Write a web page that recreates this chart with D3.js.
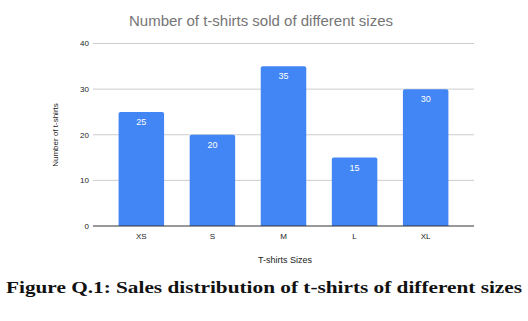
<!DOCTYPE html>
<html>
<head>
<meta charset="utf-8">
<script src="https://cdn.jsdelivr.net/npm/d3@7"></script>
<style>
html,body{margin:0;padding:0;background:#fff;}
svg{display:block;}
</style>
</head>
<body>
<svg id="chart" width="528" height="321"></svg>
<script>
const categories = ["XS", "S", "M", "L", "XL"];
const values = [25, 20, 35, 15, 30];
const yTicks = [0, 10, 20, 30, 40];
const titleText = "Number of t-shirts sold of different sizes";
const xTitle = "T-shirts Sizes";
const yTitle = "Number of t-shirts";
const caption = "Figure Q.1: Sales distribution of t-shirts of different sizes";

const svg = d3.select("#chart");
const plotLeft = 93, plotRight = 474, plotTop = 43.5, plotBottom = 226;

const x = d3.scaleBand().domain(categories).range([plotLeft, plotRight]).paddingInner(0.36).paddingOuter(0.36);
const y = d3.scaleLinear().domain([0, 40]).range([plotBottom, plotTop]);

// gridlines
svg.append("g").selectAll("line").data(yTicks.filter(d => d !== 0)).join("line")
  .attr("x1", plotLeft).attr("x2", plotRight)
  .attr("y1", d => y(d)).attr("y2", d => y(d))
  .attr("stroke", "#cccccc").attr("stroke-width", 1);

// y tick labels
svg.append("g").selectAll("text").data(yTicks).join("text")
  .attr("x", 89).attr("y", d => y(d)).attr("dy", "0.35em")
  .attr("text-anchor", "end")
  .attr("font-family", "Liberation Sans, Arial, sans-serif")
  .attr("font-size", 8).attr("fill", "#222")
  .text(d => d);

// bars with rounded top corners
const r = 2;
svg.append("g").selectAll("path").data(categories).join("path")
  .attr("fill", "#4285F4")
  .attr("d", (c, i) => {
    const x0 = x(c), w = x.bandwidth(), y0 = y(values[i]), y1 = y(0);
    return `M${x0},${y1}V${y0 + r}Q${x0},${y0} ${x0 + r},${y0}H${x0 + w - r}Q${x0 + w},${y0} ${x0 + w},${y0 + r}V${y1}Z`;
  });

// bar value labels
svg.append("g").selectAll("text").data(categories).join("text")
  .attr("x", c => x(c) + x.bandwidth() / 2)
  .attr("y", (c, i) => y(values[i]) + 13)
  .attr("text-anchor", "middle")
  .attr("font-family", "Liberation Sans, Arial, sans-serif")
  .attr("font-size", 9).attr("fill", "#ffffff")
  .text((c, i) => values[i]);

// baseline
svg.append("line").attr("x1", plotLeft).attr("x2", plotRight)
  .attr("y1", y(0)).attr("y2", y(0))
  .attr("stroke", "#333").attr("stroke-width", 1.2);

// x tick labels
const xAxis = d3.axisBottom(x).tickSize(0).tickPadding(0);
const gx = svg.append("g").attr("transform", `translate(0,${y(0)})`).call(xAxis);
gx.select(".domain").remove();
gx.selectAll("text")
  .attr("y", 13).attr("dy", 0)
  .attr("font-family", "Liberation Sans, Arial, sans-serif")
  .attr("font-size", 8).attr("fill", "#222");

// title
svg.append("text").attr("x", 261).attr("y", 26)
  .attr("text-anchor", "middle")
  .attr("font-family", "Liberation Sans, Arial, sans-serif")
  .attr("font-size", 15).attr("fill", "#757575")
  .text(titleText);

// axis titles
svg.append("text").attr("x", 285).attr("y", 263)
  .attr("text-anchor", "middle")
  .attr("font-family", "Liberation Sans, Arial, sans-serif")
  .attr("font-size", 9).attr("fill", "#222")
  .text(xTitle);

svg.append("text")
  .attr("transform", "translate(58,135) rotate(-90)")
  .attr("text-anchor", "middle")
  .attr("font-family", "Liberation Sans, Arial, sans-serif")
  .attr("font-size", 8).attr("fill", "#222")
  .text(yTitle);

// caption
svg.append("text").attr("x", 264).attr("y", 293)
  .attr("text-anchor", "middle")
  .attr("font-family", "Liberation Serif, DejaVu Serif, serif")
  .attr("font-weight", "bold")
  .attr("font-size", 17).attr("fill", "#111")
  .attr("textLength", 516).attr("lengthAdjust", "spacingAndGlyphs")
  .text(caption);
</script>
</body>
</html>
